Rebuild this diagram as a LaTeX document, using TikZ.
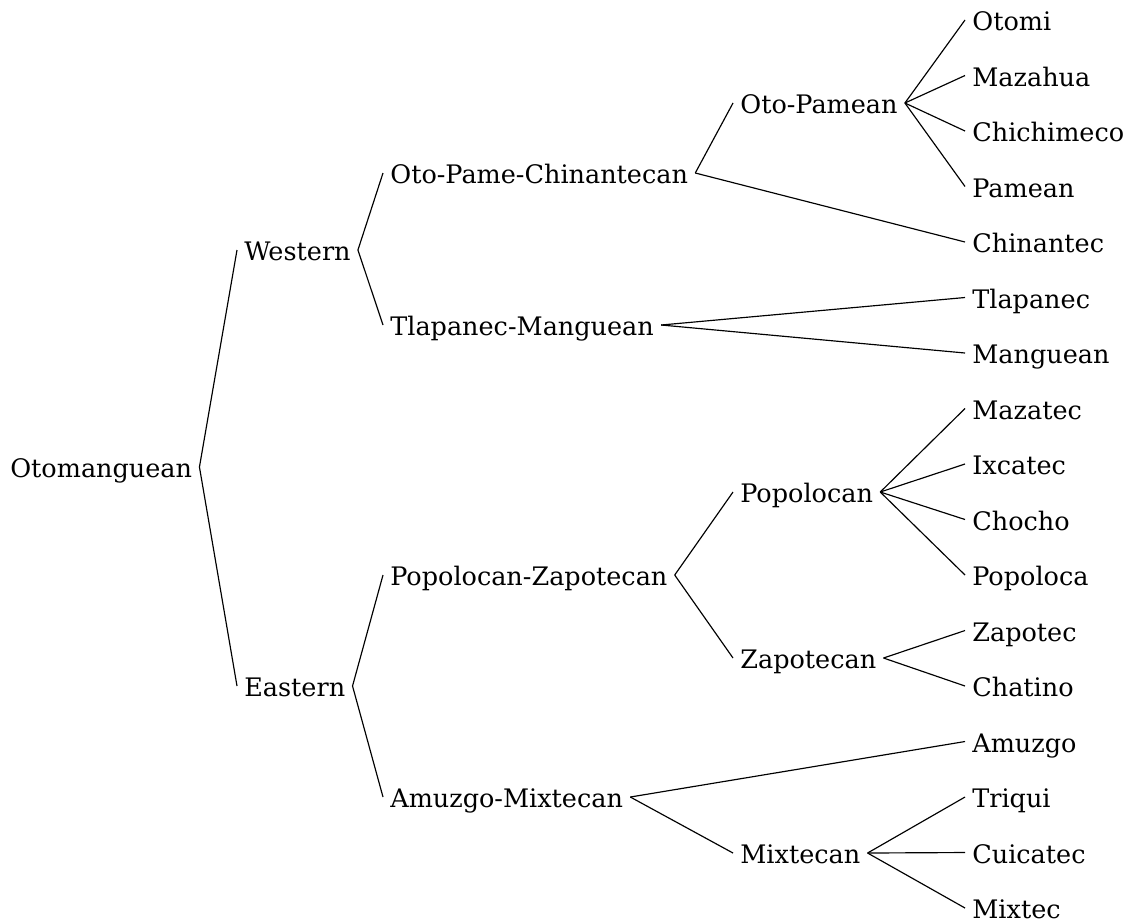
\documentclass[tikz,border=0pt]{standalone}
\usepackage{fontspec}
\setmainfont{DejaVu Serif}
\usepackage{tikz}
\usetikzlibrary{arrows}

\begin{document}
\begin{tikzpicture}[x=0.3pt,y=-0.3pt,
	lang/.style={anchor=west,inner sep=2pt,text height=1.5ex,text depth=.25ex,font=\fontsize{7.65}{10}\selectfont}]
		\useasboundingbox (0,0) rectangle (1133,923);
		% root and main branches
		\node[lang] (Oto) at (3,467) {Otomanguean};
		\node[lang] (W) at (237,250) {Western};
		\node[lang] (E) at (237,686) {Eastern};
		%
		\node[lang] (OPC) at (383,173) {Oto-Pame-Chinantecan};
		\node[lang] (TM) at (383,325) {Tlapanec-Manguean};
		\node[lang] (PZ) at (383,575) {Popolocan-Zapotecan};
		\node[lang] (AM) at (383,797) {Amuzgo-Mixtecan};
		%
		\node[lang] (OP) at (733,103) {Oto-Pamean};
		\node[lang] (Pop) at (733,492) {Popolocan};
		\node[lang] (Zap) at (733,658) {Zapotecan};
		\node[lang] (Mix) at (733,853) {Mixtecan};
		% leaves
		\node[lang] (otomi) at (965,20) {Otomi};
		\node[lang] (mazahua) at (965,75.5) {Mazahua};
		\node[lang] (chichimeco) at (965,131) {Chichimeco};
		\node[lang] (pamean) at (965,186.5) {Pamean};
		\node[lang] (chinantec) at (965,242) {Chinantec};
		\node[lang] (tlapanec) at (965,297.5) {Tlapanec};
		\node[lang] (manguean) at (965,353) {Manguean};
		\node[lang] (mazatec) at (965,408.5) {Mazatec};
		\node[lang] (ixcatec) at (965,464) {Ixcatec};
		\node[lang] (chocho) at (965,519.5) {Chocho};
		\node[lang] (popoloca) at (965,575) {Popoloca};
		\node[lang] (zapotec) at (965,630.5) {Zapotec};
		\node[lang] (chatino) at (965,686) {Chatino};
		\node[lang] (amuzgo) at (965,741.5) {Amuzgo};
		\node[lang] (triqui) at (965,797) {Triqui};
		\node[lang] (cuicatec) at (965,852.5) {Cuicatec};
		\node[lang] (mixtec) at (965,908) {Mixtec};
		%
		\path[draw,line width=0.35pt]
		(Oto.east) edge (W.west)
		(Oto.east) edge (E.west)
		(W.east) edge (OPC.west)
		(W.east) edge (TM.west)
		(E.east) edge (PZ.west)
		(E.east) edge (AM.west)
		(OPC.east) edge (OP.west)
		(OPC.east) edge (chinantec.west)
		(TM.east) edge (tlapanec.west)
		(TM.east) edge (manguean.west)
		(PZ.east) edge (Pop.west)
		(PZ.east) edge (Zap.west)
		(AM.east) edge (amuzgo.west)
		(AM.east) edge (Mix.west)
		(OP.east) edge (otomi.west)
		(OP.east) edge (mazahua.west)
		(OP.east) edge (chichimeco.west)
		(OP.east) edge (pamean.west)
		(Pop.east) edge (mazatec.west)
		(Pop.east) edge (ixcatec.west)
		(Pop.east) edge (chocho.west)
		(Pop.east) edge (popoloca.west)
		(Zap.east) edge (zapotec.west)
		(Zap.east) edge (chatino.west)
		(Mix.east) edge (triqui.west)
		(Mix.east) edge (cuicatec.west)
		(Mix.east) edge (mixtec.west);
\end{tikzpicture}
\end{document}
